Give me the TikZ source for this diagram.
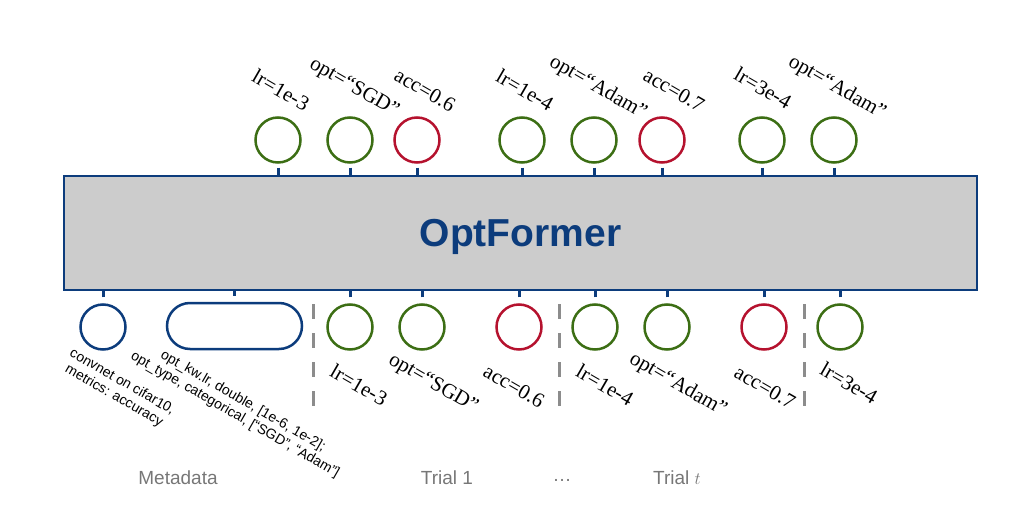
\documentclass[tikz,border=0pt]{standalone}
\usepackage{fontspec}
\setmainfont{Liberation Serif}
\setsansfont{Liberation Sans}
\usetikzlibrary{positioning}
\definecolor{ofblue}{HTML}{0C3C7C}
\definecolor{ofgreen}{HTML}{3C6E14}
\definecolor{ofred}{HTML}{B5122E}
\definecolor{ofgray}{HTML}{CCCCCC}
\definecolor{sepgray}{HTML}{8C8C8C}
\definecolor{grpgray}{HTML}{777777}
\tikzstyle{former} = [rectangle, draw=ofblue, fill=ofgray, line width=2.5pt, minimum width=913pt, minimum height=114pt, inner sep=0pt, text depth=0pt, text=ofblue, font=\sffamily\bfseries\fontsize{39}{39}\selectfont]
\tikzstyle{hp} = [draw=ofgreen, circle, line width=2.5pt, minimum size=45pt, inner sep=0pt]
\tikzstyle{acc} = [hp, draw=ofred]
\tikzstyle{meta} = [hp, draw=ofblue]
\tikzstyle{metabox} = [rectangle, draw=ofblue, rounded corners=23pt, line width=2.5pt, minimum width=135pt, minimum height=46pt]
\tikzstyle{lbl} = [rotate=-30, inner sep=0pt, font=\fontsize{21}{21}\selectfont]
\tikzstyle{metatxt} = [rotate=-30, align=center, inner sep=0pt, font=\sffamily\fontsize{14}{16}\selectfont]
\tikzstyle{stub} = [draw=ofblue, line width=3pt]
\tikzstyle{divider} = [draw=sepgray, line width=3pt, dash pattern=on 15pt off 14pt]
\tikzstyle{grouplbl} = [text=grpgray, font=\sffamily\fontsize{19}{19}\selectfont]
\begin{document}
\begin{tikzpicture}[x=1pt, y=-1pt]
	\useasboundingbox (0,0) rectangle (1023,505);
	\node [former] (former) at (520.5,233) {OptFormer};

	% outputs above the model
	\node [hp] (t1) at (278,140) {};
	\node [hp] (t2) at (350,140) {};
	\node [acc] (t3) at (417,140) {};
	\node [hp] (t4) at (522,140) {};
	\node [hp] (t5) at (594,140) {};
	\node [acc] (t6) at (662,140) {};
	\node [hp] (t7) at (762,140) {};
	\node [hp] (t8) at (834,140) {};
	\foreach \n in {t1,t2,t3,t4,t5,t6,t7,t8}
		\draw [stub, shorten <=4pt] (\n.south) -- (\n.south |- former.north);

	\node [lbl] (lt1) at (281,90) {lr=1e-3};
	\node [lbl] (lt2) at (354,88) {opt=“SGD”};
	\node [lbl] (lt3) at (425,90) {acc=0.6};
	\node [lbl] (lt4) at (525,90) {lr=1e-4};
	\node [lbl] (lt5) at (598,88) {opt=“Adam”};
	\node [lbl] (lt6) at (674,90) {acc=0.7};
	\node [lbl] (lt7) at (763,88) {lr=3e-4};
	\node [lbl] (lt8) at (837,88) {opt=“Adam”};

	% inputs below the model
	\node [meta] (m1) at (103,327) {};
	\node [metabox] (m2) at (234.5,326) {};
	\node [hp] (b1) at (350,327) {};
	\node [hp] (b2) at (422,327) {};
	\node [acc] (b3) at (519,327) {};
	\node [hp] (b4) at (595,327) {};
	\node [hp] (b5) at (667,327) {};
	\node [acc] (b6) at (764,327) {};
	\node [hp] (b7) at (840,327) {};
	\foreach \n in {m1,m2,b1,b2,b3,b4,b5,b6,b7}
		\draw [stub, shorten <=6pt] (\n.north) -- (\n.north |- former.south);

	\node [metatxt] (mt1) at (118,389) {convnet on cifar10,\\metrics: accuracy};
	\node [metatxt] (mt2) at (239,408) {opt\_kw.lr, double, [1e-6, 1e-2];\\opt\_type, categorical, [“SGD”, “Adam”]};
	\node [lbl] (lb1) at (359,385) {lr=1e-3};
	\node [lbl] (lb2) at (433,384) {opt=“SGD”};
	\node [lbl] (lb3) at (514,386) {acc=0.6};
	\node [lbl] (lb4) at (605,385) {lr=1e-4};
	\node [lbl] (lb5) at (678,385) {opt=“Adam”};
	\node [lbl] (lb6) at (765,387) {acc=0.7};
	\node [lbl] (lb7) at (849,383) {lr=3e-4};

	% trial separators
	\coordinate (d1a) at (313,304); \coordinate (d1b) at (313,406);
	\coordinate (d2a) at (559,304); \coordinate (d2b) at (559,406);
	\coordinate (d3a) at (804,304); \coordinate (d3b) at (804,406);
	\draw [divider] (d1a) -- (d1b);
	\draw [divider] (d2a) -- (d2b);
	\draw [divider] (d3a) -- (d3b);

	\node [grouplbl] (g1) at (178,478) {Metadata};
	\node [grouplbl] (g2) at (447,478) {Trial 1};
	\node [grouplbl] (g3) at (562,480) {\dots};
	\node [grouplbl] (g4) at (677,478) {Trial $t$};
\end{tikzpicture}
\end{document}
